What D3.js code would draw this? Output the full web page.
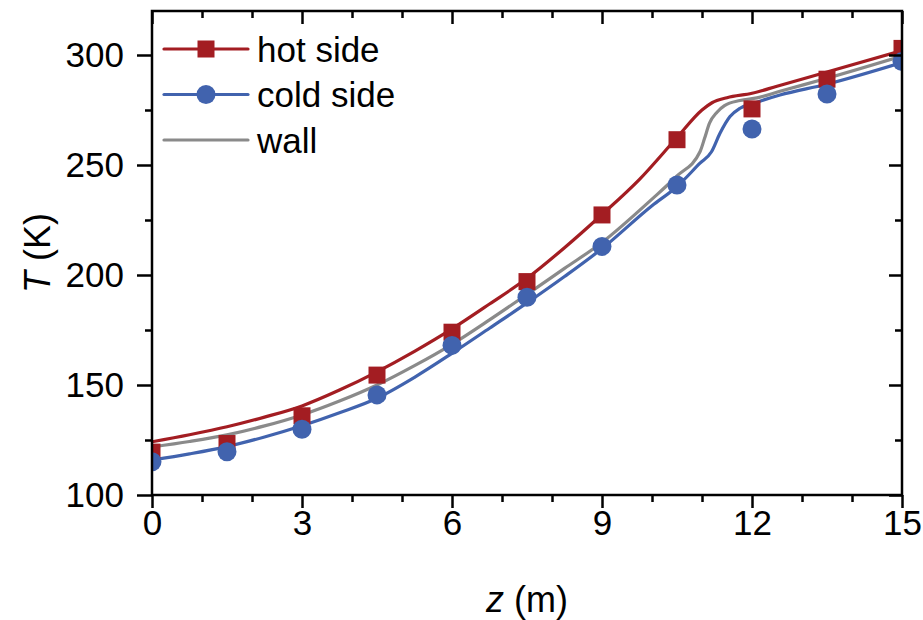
<!DOCTYPE html>
<html>
<head>
<meta charset="utf-8">
<script src="https://cdn.jsdelivr.net/npm/d3@7"></script>
<style>
	body { margin: 0; background: #fff; }
	text { font-family: "Liberation Sans", Arial, sans-serif; fill: #000; }
</style>
</head>
<body>
<div id="chart"></div>
<script>
var width = 923,
	height = 620;

// marker data (z in m, T in K)
var markerZ = [0, 1.5, 3, 4.5, 6, 7.5, 9, 10.5, 12, 13.5, 15];
var hotMarkers = [119.5, 123.4, 136, 154.5, 174, 197, 227.3, 261.5, 275.5, 289, 303];
var coldMarkers = [115.1, 119.7, 129.9, 145.5, 168, 189.9, 213, 240.9, 266.4, 282.3, 297];

// continuous profiles
var hotZ = [0, 0.75, 1.5, 2.25, 3, 3.75, 4.5, 5.25, 6, 6.75, 7.5, 8.25, 9, 9.75, 10.5, 11, 11.2, 11.5, 12, 12.5, 13.5, 15];
var hotT = [124.2, 127.4, 131, 135.4, 140.5, 147.7, 156, 165.3, 175.5, 186.8, 198.5, 212.4, 227.5, 243.5, 262.5, 275, 278.3, 280.6, 282.6, 285.8, 292.3, 302];

var wallZ = [0, 0.75, 1.5, 2.25, 3, 3.75, 4.5, 5.25, 6, 6.75, 7.5, 8.25, 9, 10, 10.5, 10.96, 11.05, 11.15, 11.3, 11.45, 11.76, 12.1, 12.56, 13.5, 15];
var wallT = [121.8, 124.3, 127.3, 131.4, 136.4, 142.7, 150, 158.8, 168.5, 179.6, 191.2, 203, 214.8, 234.5, 245, 256, 262, 269, 274, 277, 279.3, 280.5, 283.5, 289.4, 299.5];

var coldZ = [0, 0.75, 1.5, 2.25, 3, 3.75, 4.5, 5.25, 6, 6.75, 7.5, 8.25, 9, 10, 10.49, 10.96, 11.19, 11.36, 11.56, 11.76, 12.03, 12.56, 13.47, 15];
var coldT = [115.9, 118.7, 122, 126.4, 131.5, 137.4, 144, 153.5, 164.4, 175.8, 187.3, 199.3, 212, 231.5, 240, 250.8, 256, 264.4, 272, 275.8, 278, 281.8, 286.6, 296.6];

var xTicks = [0, 3, 6, 9, 12, 15];
var yTicks = [100, 150, 200, 250, 300];

var series = [
	{name: "hot side", z: hotZ, t: hotT, color: "#a31d22", marker: "square"},
	{name: "cold side", z: coldZ, t: coldT, color: "#4163ae", marker: "circle"},
	{name: "wall", z: wallZ, t: wallT, color: "#8a8a8a", marker: null}
];

var margin = {left: 152, right: 21, top: 11, bottom: 125};

var svg = d3.select("#chart").append("svg")
	.attr("width", width)
	.attr("height", height);

var x = d3.scaleLinear().domain([0, 15]).range([margin.left, width - margin.right]);
var y = d3.scaleLinear().domain([100, 320]).range([height - margin.bottom, margin.top]);

svg.append("clipPath").attr("id", "plotclip")
	.append("rect")
	.attr("x", x(0)).attr("y", y(320))
	.attr("width", x(15) - x(0)).attr("height", y(100) - y(320));

var plot = svg.append("g").attr("clip-path", "url(#plotclip)");

var line = d3.line()
	.x(function(d){ return x(d[0]); })
	.y(function(d){ return y(d[1]); })
	.curve(d3.curveMonotoneX);

// lines first
series.forEach(function(s){
	plot.append("path")
		.datum(d3.zip(s.z, s.t))
		.attr("d", line)
		.attr("fill", "none")
		.attr("stroke", s.color)
		.attr("stroke-width", 3.2)
		.attr("stroke-linejoin", "round");
});

// then markers
plot.selectAll(".sq")
	.data(d3.zip(markerZ, hotMarkers))
	.enter().append("rect")
	.attr("x", function(d){ return x(d[0]) - 8.5; })
	.attr("y", function(d){ return y(d[1]) - 8.5; })
	.attr("width", 17).attr("height", 17)
	.attr("fill", series[0].color);

plot.selectAll(".ci")
	.data(d3.zip(markerZ, coldMarkers))
	.enter().append("circle")
	.attr("cx", function(d){ return x(d[0]); })
	.attr("cy", function(d){ return y(d[1]); })
	.attr("r", 9.5)
	.attr("fill", series[1].color);

// axes
function styleAxis(g){
	g.select(".domain").remove();
	g.selectAll("line").attr("stroke", "#000").attr("stroke-width", 2.5);
	g.selectAll("text").style("font-size", "35px").attr("fill", "#000");
}

var minorX = d3.range(0, 15.01, 1).filter(function(v){ return v % 3 !== 0; });
var minorY = [125, 175, 225, 275];

svg.append("g").attr("transform", "translate(0," + y(100) + ")")
	.call(d3.axisBottom(x).tickValues(xTicks).tickSize(13).tickPadding(2).tickFormat(d3.format("d")))
	.call(styleAxis);
svg.append("g").attr("transform", "translate(0," + y(100) + ")")
	.call(d3.axisBottom(x).tickValues(minorX).tickSize(7).tickFormat(""))
	.call(styleAxis);

svg.append("g").attr("transform", "translate(" + x(0) + ",0)")
	.call(d3.axisLeft(y).tickValues(yTicks).tickSize(15).tickPadding(13).tickFormat(d3.format("d")))
	.call(styleAxis);
svg.append("g").attr("transform", "translate(" + x(0) + ",0)")
	.call(d3.axisLeft(y).tickValues(minorY).tickSize(7).tickFormat(""))
	.call(styleAxis);

// top and right: inward ticks, no labels
svg.append("g").attr("transform", "translate(0," + y(320) + ")")
	.call(d3.axisBottom(x).tickValues(xTicks).tickSize(13).tickFormat(""))
	.call(styleAxis);
svg.append("g").attr("transform", "translate(0," + y(320) + ")")
	.call(d3.axisBottom(x).tickValues(minorX).tickSize(7).tickFormat(""))
	.call(styleAxis);
svg.append("g").attr("transform", "translate(" + x(15) + ",0)")
	.call(d3.axisLeft(y).tickValues(yTicks).tickSize(13).tickFormat(""))
	.call(styleAxis);
svg.append("g").attr("transform", "translate(" + x(15) + ",0)")
	.call(d3.axisLeft(y).tickValues(minorY).tickSize(7).tickFormat(""))
	.call(styleAxis);

// frame
svg.append("rect")
	.attr("x", x(0)).attr("y", y(320))
	.attr("width", x(15) - x(0)).attr("height", y(100) - y(320))
	.attr("fill", "none").attr("stroke", "#000").attr("stroke-width", 2.5);

// axis titles
var xt = svg.append("text")
	.attr("x", (x(0) + x(15)) / 2)
	.attr("y", 612)
	.attr("text-anchor", "middle")
	.style("font-size", "36px");
xt.append("tspan").style("font-style", "italic").text("z");
xt.append("tspan").text(" (m)");

var yt = svg.append("text")
	.attr("transform", "translate(50," + (y(100) + y(320)) / 2 + ") rotate(-90)")
	.attr("text-anchor", "middle")
	.style("font-size", "36px");
yt.append("tspan").style("font-style", "italic").text("T");
yt.append("tspan").text(" (K)");

// legend
var legend = svg.append("g");
series.forEach(function(s, i){
	var ly = 49 + i * 45.5;
	var g = legend.append("g");
	g.append("line")
		.attr("x1", 164).attr("x2", 248)
		.attr("y1", ly).attr("y2", ly)
		.attr("stroke", s.color).attr("stroke-width", 3.2)
		.attr("stroke-linecap", "round");
	if(s.marker === "square"){
		g.append("rect")
			.attr("x", 206 - 8.5).attr("y", ly - 8.5)
			.attr("width", 17).attr("height", 17)
			.attr("fill", s.color);
	} else if(s.marker === "circle"){
		g.append("circle")
			.attr("cx", 206).attr("cy", ly).attr("r", 9.5)
			.attr("fill", s.color);
	}
	g.append("text")
		.attr("x", 257).attr("y", ly + 12.5)
		.style("font-size", "35px")
		.text(s.name);
});
</script>
</body>
</html>
